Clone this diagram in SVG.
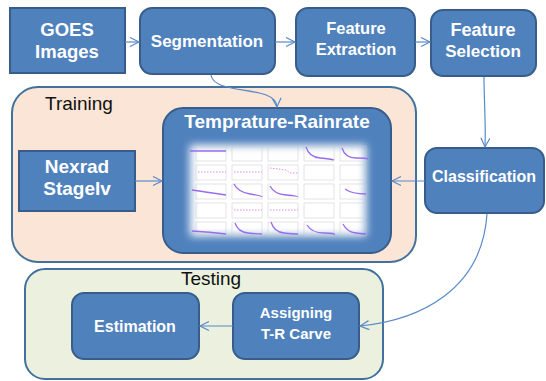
<svg xmlns="http://www.w3.org/2000/svg" width="546" height="381" viewBox="0 0 546 381">
<style>
.box{fill:#4F81BD;stroke:#385D8A;stroke-width:2}
.lbl{fill:#fff;font-family:"Liberation Sans",Arial,sans-serif;font-weight:bold;text-anchor:middle}
.cap{fill:#111;font-family:"Liberation Sans",Arial,sans-serif;font-size:19px}
.con{fill:none;stroke:#5A8AC6;stroke-width:1.2}
.cell{fill:none;stroke:#c8c8c8;stroke-width:0.5}
.pl{fill:none;stroke:#9A6BF0;stroke-width:1.3}
.dt{fill:none;stroke:#E08AE0;stroke-width:1;stroke-dasharray:1.5 1.5}
</style>
<defs>
<marker id="arr" markerUnits="userSpaceOnUse" markerWidth="12" markerHeight="12" refX="10" refY="5" orient="auto">
<path d="M1,0.5 L10,5 L1,9.5" fill="none" stroke="#5A8AC6" stroke-width="1.2"/>
</marker>
<filter id="blur" x="-20%" y="-20%" width="140%" height="140%">
<feGaussianBlur stdDeviation="4"/>
</filter>
</defs>

<g id="training">
<rect x="12" y="87" width="404" height="175" rx="26" fill="#FBE5D6" stroke="#41719C" stroke-width="2"/>
<text class="cap" x="45" y="110">Training</text>
</g>
<g id="testing">
<rect x="25" y="269" width="358" height="110" rx="20" fill="#EBF1DE" stroke="#41719C" stroke-width="2"/>
<text class="cap" x="211" y="285" text-anchor="middle">Testing</text>
</g>

<g id="goes">
<rect class="box" x="10" y="8" width="115" height="65"/>
<text class="lbl" x="67" y="36" font-size="18.5">GOES</text>
<text class="lbl" x="67" y="58" font-size="18.5">Images</text>
</g>
<g id="segmentation">
<rect class="box" x="140" y="8" width="135" height="66" rx="12"/>
<text class="lbl" x="207" y="47" font-size="17">Segmentation</text>
</g>
<g id="feature-extraction">
<rect class="box" x="296" y="8" width="119" height="68" rx="12"/>
<text class="lbl" x="356" y="34" font-size="16.5">Feature</text>
<text class="lbl" x="356" y="55" font-size="16.5">Extraction</text>
</g>
<g id="feature-selection">
<rect class="box" x="431" y="10" width="105" height="66" rx="12"/>
<text class="lbl" x="483" y="36" font-size="18">Feature</text>
<text class="lbl" x="483" y="57" font-size="17">Selection</text>
</g>
<g id="nexrad">
<rect class="box" x="19" y="151" width="116" height="60"/>
<text class="lbl" x="77" y="173" font-size="19">Nexrad</text>
<text class="lbl" x="77" y="195" font-size="19">StageIv</text>
</g>
<g id="temp-rainrate">
<rect class="box" x="163" y="108" width="228" height="145" rx="20"/>
<text class="lbl" x="277" y="128" font-size="19">Temprature-Rainrate</text>
<rect x="190" y="145" width="176" height="91" fill="#fff" filter="url(#blur)"/>
<g id="plots">
<rect class="cell" x="196" y="146" width="30" height="15"/><rect class="cell" x="232" y="146" width="30" height="15"/><rect class="cell" x="268" y="146" width="30" height="15"/><rect class="cell" x="304" y="146" width="30" height="15"/><rect class="cell" x="340" y="146" width="26" height="15"/>
<rect class="cell" x="196" y="165" width="30" height="15"/><rect class="cell" x="232" y="165" width="30" height="15"/><rect class="cell" x="268" y="165" width="30" height="15"/><rect class="cell" x="304" y="165" width="30" height="15"/><rect class="cell" x="340" y="165" width="26" height="15"/>
<rect class="cell" x="196" y="184" width="30" height="15"/><rect class="cell" x="232" y="184" width="30" height="15"/><rect class="cell" x="268" y="184" width="30" height="15"/><rect class="cell" x="304" y="184" width="30" height="15"/><rect class="cell" x="340" y="184" width="26" height="15"/>
<rect class="cell" x="196" y="203" width="30" height="15"/><rect class="cell" x="232" y="203" width="30" height="15"/><rect class="cell" x="268" y="203" width="30" height="15"/><rect class="cell" x="304" y="203" width="30" height="15"/><rect class="cell" x="340" y="203" width="26" height="15"/>
<rect class="cell" x="196" y="222" width="30" height="14"/><rect class="cell" x="232" y="222" width="30" height="14"/><rect class="cell" x="268" y="222" width="30" height="14"/><rect class="cell" x="304" y="222" width="30" height="14"/><rect class="cell" x="340" y="222" width="26" height="14"/>
<path class="pl" d="M190,151 H226"/>
<path class="pl" d="M306,147 Q309,157 320,158 T334,160"/>
<path class="pl" d="M342,148 Q345,158 356,158 T368,159"/>
<path class="dt" d="M198,172 H226"/>
<path class="dt" d="M234,172 H262"/>
<path class="dt" d="M270,168 L286,170 L290,173 H298"/>
<path class="pl" d="M192,190 Q205,192 226,195"/>
<path class="pl" d="M234,184 Q238,192 250,194 T262,197"/>
<path class="pl" d="M270,186 Q274,194 286,195 T298,197"/>
<path class="pl" d="M345,189 Q352,194 366,194"/>
<path class="dt" d="M234,210 H262"/>
<path class="dt" d="M270,210 H298"/>
<path class="pl" d="M192,231 Q210,232 226,234"/>
<path class="pl" d="M235,223 Q238,232 248,233 T262,234"/>
<path class="pl" d="M271,222 Q274,232 284,233 T298,234"/>
<path class="pl" d="M307,225 Q312,233 324,233 T334,235"/>
<path class="pl" d="M343,224 Q347,232 356,233 T366,234"/>
</g>
</g>
<g id="classification">
<rect class="box" x="425" y="148" width="119" height="65" rx="12"/>
<text class="lbl" x="484" y="182" font-size="16">Classification</text>
</g>
<g id="estimation">
<rect class="box" x="72" y="293" width="127" height="66" rx="12"/>
<text class="lbl" x="135" y="332" font-size="16">Estimation</text>
</g>
<g id="assigning">
<rect class="box" x="233" y="293" width="126" height="66" rx="12"/>
<text class="lbl" x="296" y="318" font-size="15">Assigning</text>
<text class="lbl" x="296" y="339" font-size="15">T-R  Carve</text>
</g>

<g id="connectors">
<path class="con" d="M125,42 H139" marker-end="url(#arr)"/>
<path class="con" d="M275,42 H295" marker-end="url(#arr)"/>
<path class="con" d="M415,42 H430" marker-end="url(#arr)"/>
<path class="con" d="M211,75 C214,96 276,84 277,107" marker-end="url(#arr)"/>
<path class="con" d="M484,77 C484,100 486,125 485,147" marker-end="url(#arr)"/>
<path class="con" d="M425,181 H392" marker-end="url(#arr)"/>
<path class="con" d="M135,181 H162" marker-end="url(#arr)"/>
<path class="con" d="M487,214 C482,290 420,320 360,326" marker-end="url(#arr)"/>
<path class="con" d="M233,326 H200" marker-end="url(#arr)"/>
</g>
</svg>
